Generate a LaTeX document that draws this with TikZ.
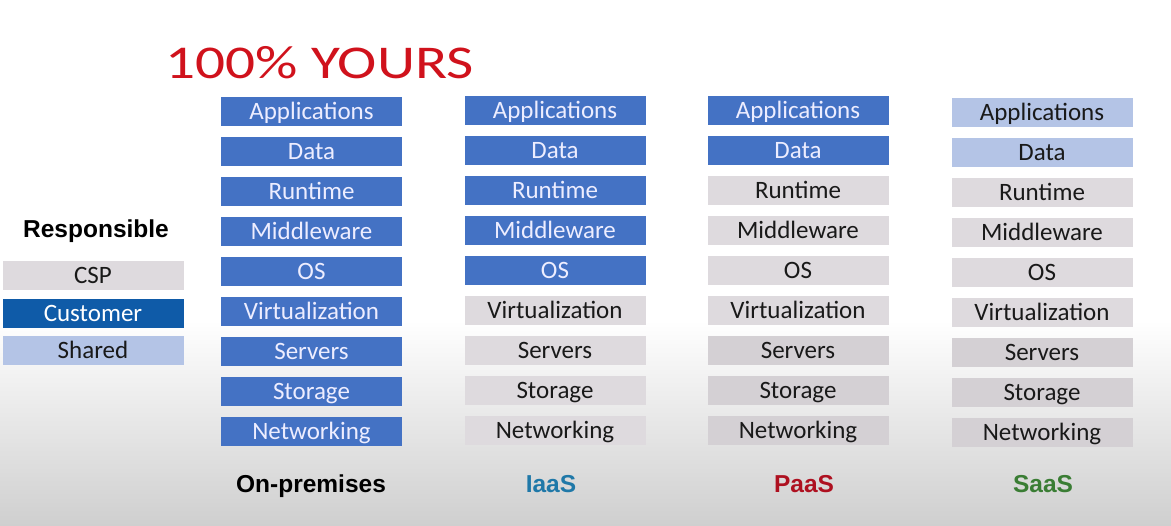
\documentclass[tikz,border=0pt]{standalone}
\usepackage{fontspec}
\setmainfont{Carlito}
\newfontfamily\arialb{Liberation Sans}
\usetikzlibrary{positioning}
\definecolor{cust}{HTML}{4472C4}
\definecolor{custleg}{HTML}{0F5BA8}
\definecolor{shared}{HTML}{B4C4E6}
\definecolor{cspA}{HTML}{DEDADE}
\definecolor{cspB}{HTML}{D4D0D4}
\definecolor{titlered}{HTML}{D0121C}
\definecolor{iaas}{HTML}{1F78A8}
\definecolor{paas}{HTML}{AE1020}
\definecolor{saas}{HTML}{3A7D34}
\definecolor{bgbot}{HTML}{CFCFCF}
\tikzset{
  layer/.style={minimum width=181pt, minimum height=29pt, inner sep=0pt,
    font=\fontsize{25}{25}\selectfont, text height=16pt, text depth=0pt},
  custbox/.style={layer, fill=cust, text=white!93!blue},
  cspbox/.style={layer, fill=cspA, text=black!90},
  cspboxb/.style={layer, fill=cspB, text=black!90},
  sharedbox/.style={layer, fill=shared, text=black!90},
  collabel/.style={font=\arialb\bfseries\fontsize{24.5}{25}\selectfont, text height=17.5pt, text depth=0pt, inner sep=0pt}
}
\begin{document}
\begin{tikzpicture}[x=1pt,y=-1pt]
\useasboundingbox (0,0) rectangle (1171,526);
\fill[white] (0,0) rectangle (1171,320);
\shade[top color=white, bottom color=bgbot] (0,320) rectangle (1171,526);

\node[font=\fontsize{47}{47}\selectfont, text=titlered, anchor=base west, inner sep=0pt] (title) at (165,79) {\scalebox{1.26}[1]{100\% YOURS}};

\node[collabel] (resp) at (96,229) {Responsible};
\node[cspbox] (lcsp) at (93,275.5) {CSP};
\node[layer, fill=custleg, text=white] (lcust) at (93,313.5) {Customer};
\node[sharedbox] (lshared) at (93,350.5) {Shared};

% Column 1: On-premises
\foreach \t [count=\i from 0] in {Applications,Data,Runtime,Middleware,OS,Virtualization,Servers,Storage,Networking}
  \node[custbox] (c1r\i) at (311.5,111.5+40*\i) {\t};

% Column 2: IaaS
\foreach \t [count=\i from 0] in {Applications,Data,Runtime,Middleware,OS}
  \node[custbox] (c2r\i) at (555,110.5+40*\i) {\t};
\foreach \t [count=\i from 5] in {Virtualization,Servers,Storage,Networking}
  \node[cspbox] (c2r\i) at (555,110.5+40*\i) {\t};

% Column 3: PaaS
\foreach \t [count=\i from 0] in {Applications,Data}
  \node[custbox] (c3r\i) at (798,110.5+40*\i) {\t};
\foreach \t [count=\i from 2] in {Runtime,Middleware,OS,Virtualization}
  \node[cspbox] (c3r\i) at (798,110.5+40*\i) {\t};
\foreach \t [count=\i from 6] in {Servers,Storage,Networking}
  \node[cspboxb] (c3r\i) at (798,110.5+40*\i) {\t};

% Column 4: SaaS
\foreach \t [count=\i from 0] in {Applications,Data}
  \node[sharedbox] (c4r\i) at (1042,112.5+40*\i) {\t};
\foreach \t [count=\i from 2] in {Runtime,Middleware,OS,Virtualization}
  \node[cspbox] (c4r\i) at (1042,112.5+40*\i) {\t};
\foreach \t [count=\i from 6] in {Servers,Storage,Networking}
  \node[cspboxb] (c4r\i) at (1042,112.5+40*\i) {\t};

\node[collabel] (onprem) at (311,484) {On-premises};
\node[collabel, text=iaas] (iaaslab) at (551,484) {IaaS};
\node[collabel, text=paas] (paaslab) at (804,484) {PaaS};
\node[collabel, text=saas] (saaslab) at (1043,484) {SaaS};
\end{tikzpicture}
\end{document}
